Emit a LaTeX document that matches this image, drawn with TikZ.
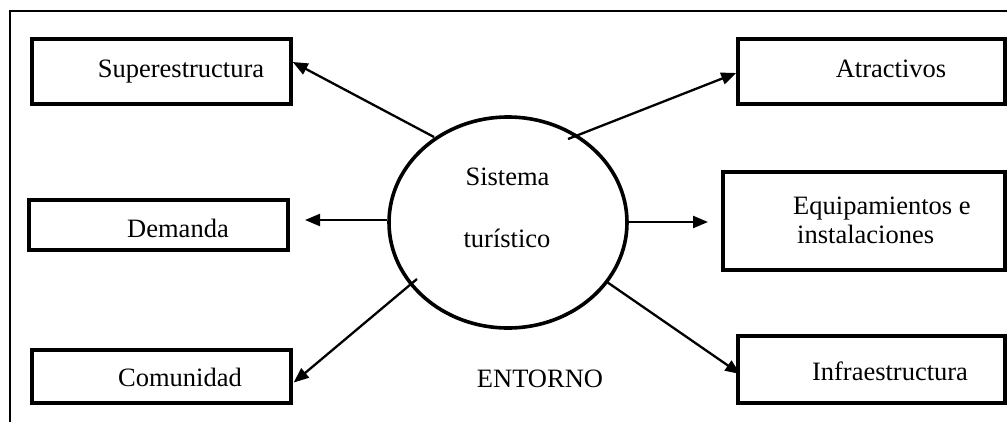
\documentclass[tikz,border=0pt]{standalone}
\usepackage{fontspec}
\setmainfont{Liberation Serif}
\usetikzlibrary{arrows.meta,calc,shapes.geometric}
\begin{document}
\begin{tikzpicture}[x=1pt,y=-1pt,
  box/.style={draw,line width=3.5pt,inner sep=0pt},
  lbl/.style={inner sep=0pt,anchor=base,font=\fontsize{26.5}{32}\selectfont},
  arr/.style={line width=2.3pt,-{Triangle[length=15pt,width=12pt]}},
  frame/.style={draw,line width=2.2pt}]
\clip (0,0) rectangle (1007,421);
\fill[white] (0,0) rectangle (1007,421);
\draw[frame] (10,11) rectangle (1030,440);
% boxes
\node[box,minimum width=259pt,minimum height=65pt] (sup) at (161.5,71.5) {};
\node[box,minimum width=259pt,minimum height=50pt] (dem) at (158.5,225) {};
\node[box,minimum width=259pt,minimum height=53pt] (com) at (161.5,376.5) {};
\node[box,minimum width=267pt,minimum height=65pt] (atr) at (871.5,71.5) {};
\node[box,minimum width=282pt,minimum height=98pt] (equ) at (864,221) {};
\node[box,minimum width=267pt,minimum height=67pt] (inf) at (871.5,369.5) {};
% ellipse
\node[ellipse,draw,line width=3.6pt,minimum width=238pt,minimum height=211pt,inner sep=0pt] (sys) at (508,222.5) {};
% texts
\node[lbl] (tsup) at (181,77) {Superestructura};
\node[lbl] (tdem) at (178,237) {Demanda};
\node[lbl] (tcom) at (180,386) {Comunidad};
\node[lbl] (tatr) at (891,77) {Atractivos};
\node[lbl] (tinf) at (890,380) {Infraestructura};
\node[lbl,anchor=base west] (tequ1) at (793,214) {Equipamientos e};
\node[lbl,anchor=base west] (tequ2) at (797,243) {instalaciones};
\node[lbl] (tsys1) at (507.5,185) {Sistema};
\node[lbl] (tsys2) at (507,247) {turístico};
\node[lbl] (tent) at (540,387) {ENTORNO};
% connector ends
\coordinate (s1) at (434,137);
\coordinate (s2) at (568,139);
\coordinate (s5) at (417,279);
\coordinate (s6) at (607,282);
\coordinate (d1) at (305,220);
\coordinate (d2) at (708,222);
% connectors
\draw[arr] (s1) -- ($(sup.east)+(0,-9.5)$);
\draw[arr] (s2) -- ($(atr.west)+(0,1.5)$);
\draw[arr] ($(sys.west)+(0,-2.5)$) -- (d1);
\draw[arr] ($(sys.east)+(0,-0.5)$) -- (d2);
\draw[arr] (s5) -- ($(com.east)+(1,6)$);
\draw[arr] (s6) -- ($(inf.west)+(4,4.5)$);
\end{tikzpicture}
\end{document}
